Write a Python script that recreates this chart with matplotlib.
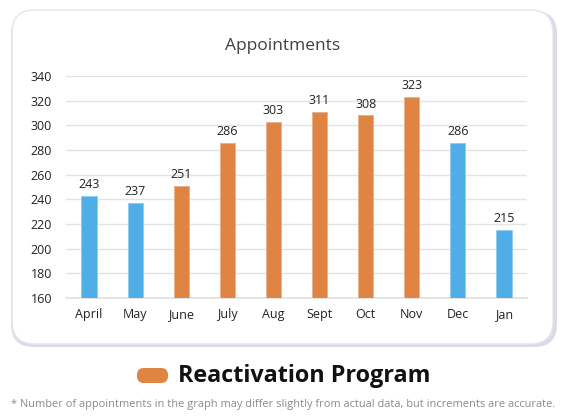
import matplotlib
matplotlib.use("Agg")
import matplotlib.pyplot as plt
from matplotlib.patches import FancyBboxPatch

months = ["April", "May", "June", "July", "Aug", "Sept", "Oct", "Nov", "Dec", "Jan"]
values = [243, 237, 251, 286, 303, 311, 308, 323, 286, 215]
program = [False, False, True, True, True, True, True, True, False, False]
yticks = [160, 180, 200, 220, 240, 260, 280, 300, 320, 340]

BLUE = "#4FAEE8"
ORANGE = "#E08444"

plt.rcParams['font.family'] = ['Open Sans', 'DejaVu Sans']

W, H = 566, 416
fig = plt.figure(figsize=(W/100, H/100), dpi=100)
fig.patch.set_facecolor("white")

def fx(px): return px / W
def fy(py): return 1 - py / H

# card shadow + card
shadow = FancyBboxPatch((fx(11), fy(347)), fx(546), (347-11)/H,
                        boxstyle="round,pad=0,rounding_size=0.04",
                        transform=fig.transFigure, facecolor="#D9DBE6",
                        edgecolor="none", zorder=0, mutation_aspect=W/H)
fig.patches.append(shadow)
card = FancyBboxPatch((fx(12), fy(344)), fx(541), (344-10)/H,
                      boxstyle="round,pad=0,rounding_size=0.04",
                      transform=fig.transFigure, facecolor="white",
                      edgecolor="#E4E5EC", linewidth=1.0, zorder=0.5,
                      mutation_aspect=W/H)
fig.patches.append(card)

ax = fig.add_axes([fx(66), (H-298)/H, 461/W, 222/H])
ax.set_zorder(3)
ax.set_facecolor("none")
x = range(len(months))
colors = [ORANGE if p else BLUE for p in program]
bars = ax.bar(x, [v - 160 for v in values], bottom=160, width=0.33,
              color=colors, edgecolor=[("#E6B08A" if p else "#8FCBF0") for p in program],
              linewidth=0.6, zorder=3)
for xi, v in zip(x, values):
    ax.text(xi, v + 4, str(v), ha="center", va="bottom", fontsize=9, color="#222222", zorder=4)

ax.set_xlim(-0.5, len(months) - 0.5)
ax.set_ylim(160, 340)
ax.set_yticks(yticks)
ax.set_xticks(list(x))
ax.set_xticklabels(months)
ax.tick_params(axis="both", length=0, labelsize=9, colors="#222222")
ax.tick_params(axis="y", pad=10)
ax.tick_params(axis="x", pad=7)
ax.grid(axis="y", color="#E3E3E3", linewidth=1.0, zorder=0)
for s in ["top", "right", "left"]:
    ax.spines[s].set_visible(False)
ax.spines["bottom"].set_color("#E0E0E0")
ax.spines["bottom"].set_linewidth(1.2)

fig.text(fx(283), fy(46), "Appointments", ha="center", va="center",
         fontsize=12.5, color="#404040", zorder=5)

# legend
leg = FancyBboxPatch((fx(137), fy(383)), fx(31), 15/H,
                     boxstyle="round,pad=0,rounding_size=0.012",
                     transform=fig.transFigure, facecolor=ORANGE,
                     edgecolor="none", mutation_aspect=W/H)
fig.patches.append(leg)
fig.text(fx(178), fy(376), "Reactivation Program", ha="left", va="center",
         fontsize=16.8, fontweight="bold", color="#111111")

fig.text(fx(283), fy(404),
         "* Number of appointments in the graph may differ slightly from actual data, but increments are accurate.",
         ha="center", va="center", fontsize=7.95, color="#8A8A8A")

fig.savefig("out.png", dpi=100, facecolor="white")
